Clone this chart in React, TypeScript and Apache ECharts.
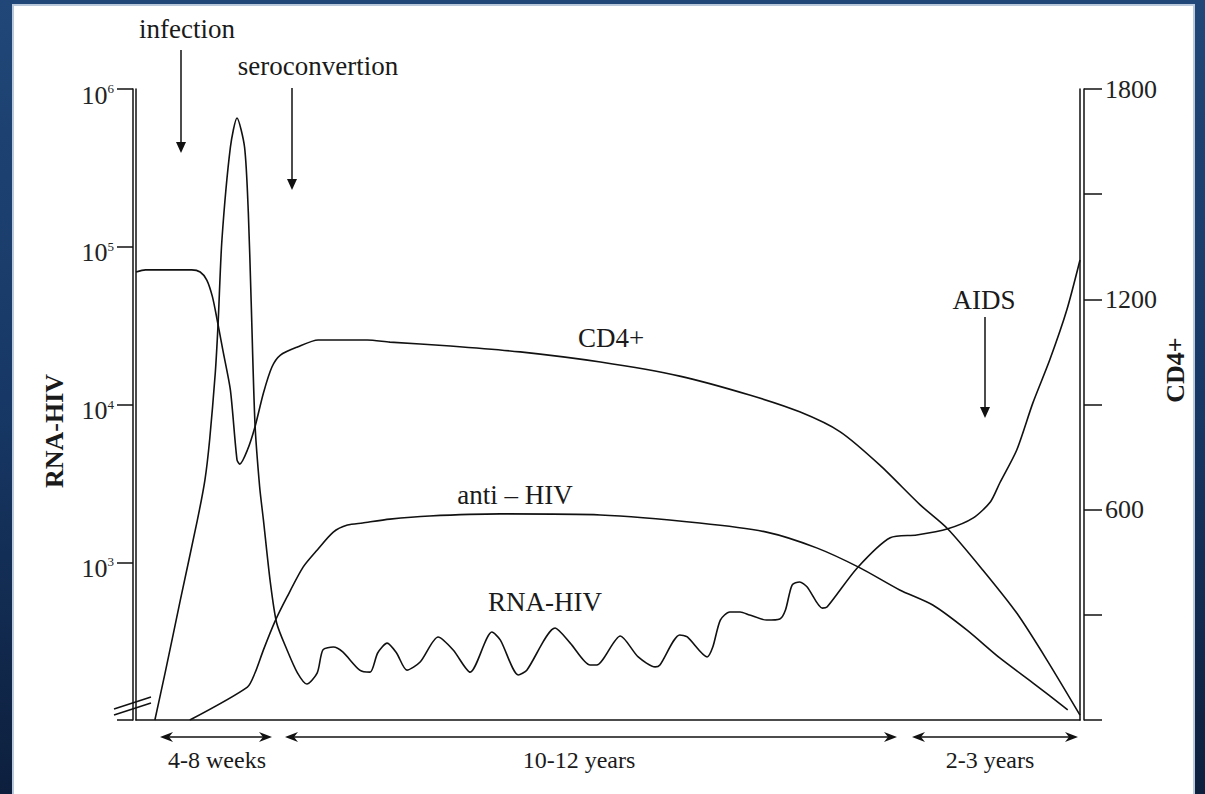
import React, { useEffect, useRef } from "react";
import * as echarts from "echarts";

// Time axis: arbitrary units 0..100 across the plot
const rnaT = [2.0, 3.1, 4.7, 6.5, 7.3, 7.8, 8.4, 8.7, 9.1, 10.0, 10.7, 11.5, 11.9, 12.2, 12.6, 13.1, 13.5, 14.2, 14.9, 16.0, 17.1, 18.1, 19.2, 19.8, 20.9, 21.9, 23.7, 24.8, 25.6, 26.6, 27.6, 28.7, 30.1, 32.0, 33.6, 35.4, 37.7, 38.6, 40.5, 41.4, 44.4, 46.0, 48.1, 48.8, 51.3, 53.2, 55.0, 55.5, 57.6, 58.4, 60.5, 61.1, 61.9, 62.9, 64.0, 65.0, 66.8, 68.2, 68.8, 69.5, 70.3, 71.1, 72.7, 73.2, 76.4, 79.9, 82.7, 86.0, 88.7, 90.5, 91.5, 93.3, 95.0, 96.8, 98.6, 100];
const rnaV = [100, 201, 577, 1850, 3320, 5960, 15900, 32900, 110000, 428000, 655000, 428000, 164000, 45000, 7640, 3000, 1850, 771, 412, 278, 199, 169, 199, 278, 290, 270, 207, 201, 266, 307, 266, 207, 233, 336, 278, 201, 361, 321, 193, 207, 383, 307, 223, 223, 341, 251, 217, 223, 346, 336, 251, 290, 430, 484, 484, 463, 430, 437, 498, 717, 750, 697, 512, 520, 920, 1430, 1490, 1630, 1910, 2410, 3180, 5150, 10200, 19200, 39700, 82400];

const cd4T = [0, 1.0, 5.9, 6.8, 7.5, 8.1, 8.6, 9.2, 10.0, 10.7, 11.0, 11.8, 12.6, 13.5, 14.4, 15.3, 17.1, 19.3, 24.5, 26.9, 33.3, 40.7, 49.2, 57.6, 65.0, 70.3, 74.6, 78.8, 83.1, 86.0, 89.7, 93.3, 96.5, 100];
const cd4V = [1278, 1284, 1284, 1278, 1255, 1207, 1141, 1055, 941, 742, 730, 770, 836, 933, 1007, 1041, 1064, 1084, 1084, 1078, 1067, 1050, 1021, 981, 927, 879, 822, 727, 613, 545, 428, 305, 171, 14];

const antiT = [5.7, 11.8, 12.6, 13.5, 14.7, 16.0, 17.7, 19.2, 20.9, 22.4, 24.0, 26.9, 31.1, 38.6, 49.2, 59.7, 66.8, 72.1, 76.7, 80.9, 84.4, 88.0, 91.5, 95.0, 98.7];
const antiV = [0, 94, 134, 200, 280, 351, 436, 485, 536, 556, 562, 573, 582, 588, 585, 562, 536, 491, 434, 371, 328, 257, 177, 106, 29];

const cd4Labels = [600, 1200, 1800];
const periodLabels = ["4-8 weeks", "10-12 years", "2-3 years"];
const eventLabels = ["infection", "seroconvertion", "AIDS"];

const FONT = "Liberation Serif";
const INK = "#111";

const pairs = (t: number[], v: number[]) => t.map((x, i) => [x, v[i]]);

function downArrow(x: number, y1: number, y2: number) {
  return [
    { type: "line", shape: { x1: x, y1, x2: x, y2: y2 - 8 }, style: { stroke: INK, lineWidth: 1.5 } },
    { type: "polygon", shape: { points: [[x - 5, y2 - 11], [x + 5, y2 - 11], [x, y2]] }, style: { fill: INK } },
  ];
}

function spanArrow(x1: number, x2: number, y: number) {
  return [
    { type: "line", shape: { x1: x1 + 6, y1: y, x2: x2 - 6, y2: y }, style: { stroke: INK, lineWidth: 1.5 } },
    { type: "polygon", shape: { points: [[x1, y], [x1 + 13, y - 5], [x1 + 9, y], [x1 + 13, y + 5]] }, style: { fill: INK } },
    { type: "polygon", shape: { points: [[x2, y], [x2 - 13, y - 5], [x2 - 9, y], [x2 - 13, y + 5]] }, style: { fill: INK } },
  ];
}

function label(text: string, x: number, y: number, size: number, extra: any = {}) {
  return {
    type: "text",
    x,
    y,
    ...extra,
    style: { text, fontFamily: FONT, fontSize: size, fill: "#1a1a1a", align: "center", verticalAlign: "middle", ...(extra.style || {}) },
  };
}

export default function App() {
  const ref = useRef<HTMLDivElement>(null);

  useEffect(() => {
    if (!ref.current) return;
    const chart = echarts.init(ref.current, undefined, { renderer: "svg" });

    const lineStyle = { color: INK, width: 1.6 };
    const axisLine = { show: true, lineStyle: { color: INK, width: 1.5 } };

    const graphic: any[] = [
      ...downArrow(181, 50, 153),
      ...downArrow(292, 88, 190),
      ...downArrow(985, 317, 418),
      ...spanArrow(160, 272, 737),
      ...spanArrow(285, 897, 737),
      ...spanArrow(912, 1078, 737),
      label(eventLabels[0], 187, 29, 27),
      label(eventLabels[1], 318, 66, 27),
      label(eventLabels[2], 984, 300, 27),
      label("CD4+", 611, 338, 27),
      label("anti – HIV", 515, 495, 27),
      label("RNA-HIV", 545, 602, 27),
      label(periodLabels[0], 217, 760, 24),
      label(periodLabels[1], 579, 760, 24),
      label(periodLabels[2], 990, 760, 24),
      label("RNA-HIV", 54, 431, 26, { rotation: Math.PI / 2, style: { fontWeight: "bold" } }),
      label("CD4+", 1175, 370, 26, { rotation: Math.PI / 2, style: { fontWeight: "bold" } }),
      { type: "line", shape: { x1: 114, y1: 709, x2: 151, y2: 697 }, style: { stroke: INK, lineWidth: 1.5 } },
      { type: "line", shape: { x1: 114, y1: 715, x2: 151, y2: 703 }, style: { stroke: INK, lineWidth: 1.5 } },
    ];

    chart.setOption({
      animation: false,
      grid: { left: 136, right: 125, top: 89, bottom: 74, containLabel: false },
      xAxis: {
        type: "value",
        min: 0,
        max: 100,
        axisLine,
        axisTick: { show: false },
        axisLabel: { show: false },
        splitLine: { show: false },
      },
      yAxis: [
        {
          type: "log",
          min: 100,
          max: 1000000,
          position: "left",
          offset: 0,
          axisLine,
          axisTick: { show: false },
          axisLabel: { show: false },
          splitLine: { show: false },
        },
        {
          type: "log",
          min: 100,
          max: 1000000,
          position: "left",
          offset: 3,
          axisLine,
          axisTick: { show: true, length: 16, lineStyle: { color: INK, width: 1.5 } },
          axisLabel: {
            margin: 19,
            padding: [12, 0, 0, 0],
            formatter: (v: number) => (v <= 100 ? "" : "{b|10}{s|" + Math.round(Math.log10(v)) + "}"),
            rich: {
              b: { fontFamily: FONT, fontSize: 26, color: "#222" },
              s: { fontFamily: FONT, fontSize: 13, color: "#222", verticalAlign: "top" },
            },
          },
          splitLine: { show: false },
          minorTick: { show: false },
        },
        {
          type: "value",
          min: 0,
          max: 1800,
          interval: 300,
          position: "right",
          offset: 0,
          axisLine,
          axisTick: { show: false },
          axisLabel: { show: false },
          splitLine: { show: false },
        },
        {
          type: "value",
          min: 0,
          max: 1800,
          interval: 300,
          position: "right",
          offset: 4,
          axisLine,
          axisTick: { show: true, length: 18, lineStyle: { color: INK, width: 1.5 } },
          axisLabel: {
            margin: 21,
            fontFamily: FONT,
            fontSize: 26,
            color: "#222",
            formatter: (v: number) => (cd4Labels.includes(v) ? String(v) : ""),
          },
          splitLine: { show: false },
        },
      ],
      series: [
        { name: "RNA-HIV", type: "line", yAxisIndex: 0, data: pairs(rnaT, rnaV), symbol: "none", smooth: 0.25, lineStyle, silent: true },
        { name: "CD4+", type: "line", yAxisIndex: 2, data: pairs(cd4T, cd4V), symbol: "none", smooth: 0.25, lineStyle, silent: true },
        { name: "anti-HIV", type: "line", yAxisIndex: 2, data: pairs(antiT, antiV), symbol: "none", smooth: 0.25, lineStyle, silent: true },
      ],
      graphic,
    });

    return () => chart.dispose();
  }, []);

  return (
    <div
      style={{
        position: "fixed",
        left: 0,
        top: 0,
        width: 1205,
        height: 794,
        overflow: "hidden",
        background: "linear-gradient(to bottom, #204778 0%, #173866 50%, #0d1f3d 100%)",
      }}
    >
      <div
        style={{
          position: "absolute",
          left: 12,
          top: 4,
          width: 1183,
          height: 820,
          background: "#fff",
          boxSizing: "border-box",
          border: "2px solid #b9c8db",
        }}
      />
      <div ref={ref} style={{ position: "absolute", left: 0, top: 0, width: 1205, height: 794 }} />
    </div>
  );
}
